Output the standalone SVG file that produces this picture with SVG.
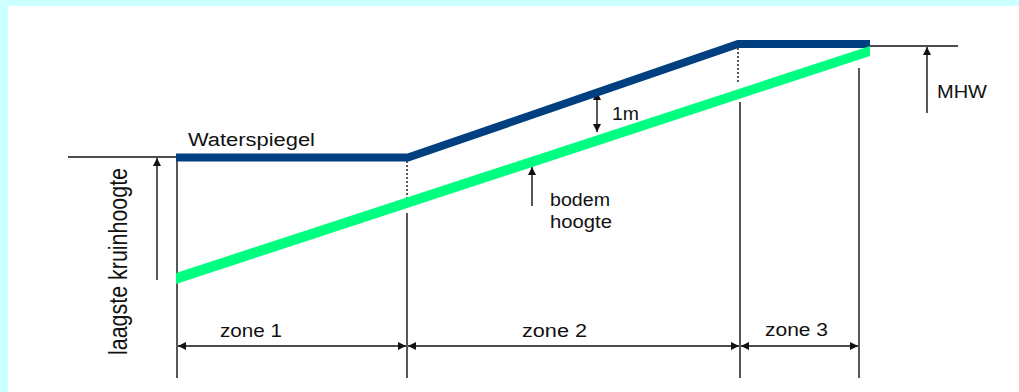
<svg xmlns="http://www.w3.org/2000/svg" width="1019" height="392" viewBox="0 0 1019 392">
<style>
.t{font-family:"Liberation Sans",Arial,sans-serif;font-size:18px;fill:#111}
.thin{stroke:#111;stroke-width:1.4;fill:none}
.dot{stroke:#111;stroke-width:1.4;stroke-dasharray:2 2;fill:none}
.dim{stroke:#111;stroke-width:1.4;fill:none;marker-end:url(#ah)}
.dim2{stroke:#111;stroke-width:1.4;fill:none;marker-start:url(#ahs);marker-end:url(#ah)}
</style>
<defs>
<marker id="ah" viewBox="0 0 10 10" refX="10" refY="5" markerWidth="9" markerHeight="8" markerUnits="userSpaceOnUse" orient="auto"><path d="M0,0L10,5L0,10z" fill="#111"/></marker>
<marker id="ahs" viewBox="0 0 10 10" refX="0" refY="5" markerWidth="9" markerHeight="8" markerUnits="userSpaceOnUse" orient="auto"><path d="M10,0L0,5L10,10z" fill="#111"/></marker>
</defs>
<rect x="0" y="0" width="1019" height="392" fill="#ffffff"/>
<rect x="0" y="0" width="1019" height="6" fill="#ccffff"/>
<rect x="0" y="0" width="8" height="392" fill="#ccffff"/>

<g id="connectors">
<line class="thin" x1="68" y1="157" x2="178" y2="157"/>
<line class="thin" x1="870" y1="46" x2="958" y2="46"/>
<line class="thin" x1="177" y1="157" x2="177" y2="378"/>
<line class="dot" x1="407" y1="161" x2="407" y2="200"/>
<line class="thin" x1="407" y1="213" x2="407" y2="378"/>
<line class="dot" x1="738" y1="48" x2="738" y2="84"/>
<line class="thin" x1="740" y1="102" x2="740" y2="378"/>
<line class="thin" x1="859" y1="68" x2="859" y2="378"/>
<line class="dim" x1="157" y1="280" x2="157" y2="158"/>
<line class="dim" x1="927" y1="113" x2="927" y2="47"/>
<line class="dim2" x1="597" y1="132" x2="597" y2="92"/>
<line class="dim" x1="532" y1="206" x2="532" y2="167"/>
<line class="dim2" x1="178" y1="346" x2="406" y2="346"/>
<line class="dim2" x1="408" y1="346" x2="739" y2="346"/>
<line class="dim2" x1="741" y1="346" x2="858" y2="346"/>
</g>

<g id="waterspiegel">
<polyline points="176,157.5 408,157.5 738,44 870,44" fill="none" stroke="#003f80" stroke-width="8" stroke-linejoin="miter"/>
<text class="t" x="188" y="146" textLength="127" lengthAdjust="spacingAndGlyphs">Waterspiegel</text>
</g>
<g id="bodem">
<polygon points="176,273 870,46 870,56 176,284" fill="#00ff80"/>
<text class="t" x="550" y="206" textLength="60" lengthAdjust="spacingAndGlyphs">bodem</text>
<text class="t" x="550" y="228" textLength="62" lengthAdjust="spacingAndGlyphs">hoogte</text>
</g>
<g id="label-1m"><text class="t" x="612" y="120" textLength="27" lengthAdjust="spacingAndGlyphs">1m</text></g>
<g id="label-mhw"><text class="t" x="937" y="98" textLength="50" lengthAdjust="spacingAndGlyphs">MHW</text></g>
<g id="label-kruin"><text class="t" font-size="19" transform="translate(127,355) scale(1.4,1) rotate(-90)" textLength="187" lengthAdjust="spacingAndGlyphs">laagste kruinhoogte</text></g>
<g id="zone1"><text class="t" x="220" y="337" textLength="62" lengthAdjust="spacingAndGlyphs">zone 1</text></g>
<g id="zone2"><text class="t" x="522" y="337" textLength="65" lengthAdjust="spacingAndGlyphs">zone 2</text></g>
<g id="zone3"><text class="t" x="765" y="336" textLength="63" lengthAdjust="spacingAndGlyphs">zone 3</text></g>
</svg>
